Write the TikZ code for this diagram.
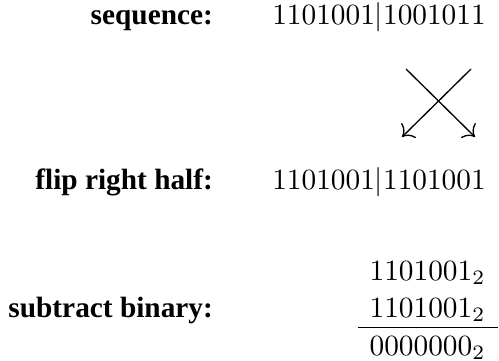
\documentclass[tikz,border=0pt]{standalone}
\usepackage{fontspec}
\newfontfamily\tnr{Liberation Serif}
\usetikzlibrary{arrows.meta}
\begin{document}
\begin{tikzpicture}[x=0.341pt,y=-0.341pt,
  lab/.style={anchor=base east,inner sep=0pt,font=\tnr\bfseries},
  num/.style={anchor=base,inner sep=0pt},
  rnum/.style={anchor=base east,inner sep=0pt},
  flip/.style={-{Computer Modern Rightarrow[scale=1.3]},line width=0.45pt}]
\useasboundingbox (0,0) rectangle (499,360);
\node[lab] (l1) at (213.5,25) {sequence:};
\node[lab] (l2) at (213.5,189) {flip right half:};
\node[lab] (l3) at (213.5,317) {subtract binary:};
\node[num] (s1) at (379,25) {$1101001|1001011$};
\node[num] (s2) at (379,190) {$1101001|1101001$};
\node[rnum] (a) at (486,280) {$1101001_2$};
\node[rnum] (b) at (486,317) {$1101001_2$};
\node[rnum] (c) at (486,355) {$0000000_2$};
\coordinate (p1) at (406,69);
\coordinate (q1) at (475,137);
\coordinate (p2) at (471,69);
\coordinate (q2) at (402,137);
\draw[flip] (p1) -- (q1);
\draw[flip] (p2) -- (q2);
\coordinate (r1) at (358,327.5);
\coordinate (r2) at (498,327.5);
\draw[line width=0.45pt] (r1) -- (r2);
\end{tikzpicture}
\end{document}
